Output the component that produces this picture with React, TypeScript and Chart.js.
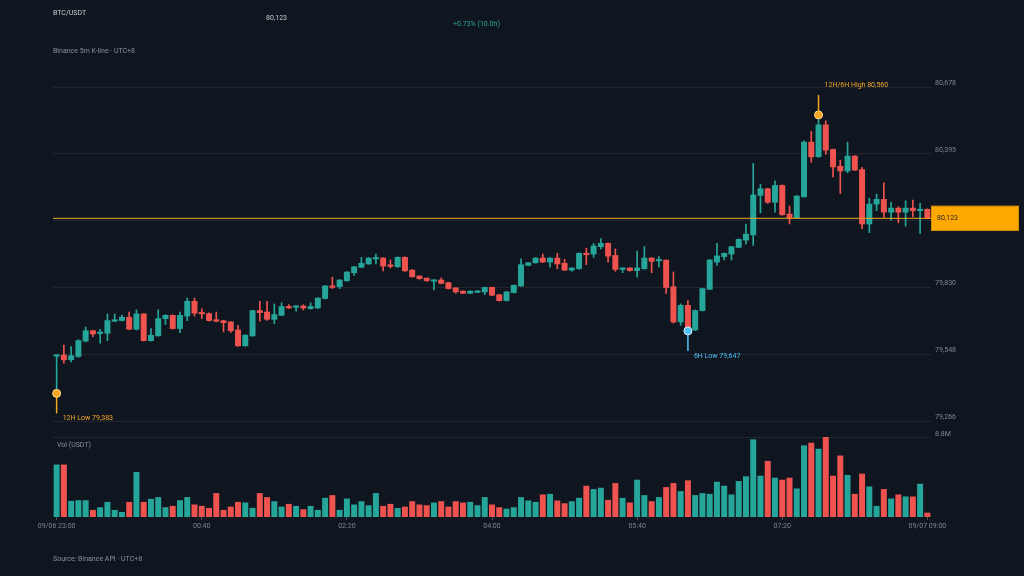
import React, { useEffect, useRef } from 'react';
import { Chart, registerables } from 'chart.js';

Chart.register(...registerables);

// 5m candles, 09/06 23:00 -> 09/07 09:00 (UTC+8)
const opens = [
  79540, 79545, 79525, 79539, 79604, 79648, 79636, 79637, 79688, 79691,
  79705, 79654, 79719, 79606, 79626, 79699, 79713, 79657, 79710, 79772,
  79724, 79720, 79693, 79690, 79685, 79651, 79584, 79626, 79733, 79727,
  79696, 79713, 79750, 79747, 79752, 79741, 79744, 79784, 79837, 79834,
  79859, 79893, 79916, 79930, 79951, 79955, 79925, 79918, 79958, 79904,
  79879, 79870, 79857, 79862, 79851, 79829, 79815, 79806, 79810, 79812,
  79831, 79800, 79775, 79809, 79837, 79924, 79935, 79955, 79938, 79955,
  79933, 79904, 79910, 79975, 79972, 80003, 80017, 79966, 79907, 79913,
  79902, 79910, 79955, 79943, 79946, 79834, 79685, 79755, 79651, 79733,
  79823, 79938, 79961, 79972, 80000, 80031, 80053, 80220, 80248, 80191,
  80262, 80141, 80124, 80214, 80445, 80383, 80518, 80414, 80343, 80323,
  80386, 80329, 80099, 80183, 80203, 80149, 80166, 80149, 80166, 80155,
  80161,
];
const highs = [
  79545, 79587, 79581, 79610, 79663, 79650, 79654, 79719, 79719, 79714,
  79727, 79736, 79721, 79657, 79736, 79716, 79715, 79727, 79786, 79786,
  79741, 79724, 79727, 79692, 79686, 79671, 79631, 79735, 79772, 79772,
  79761, 79766, 79758, 79753, 79758, 79766, 79787, 79839, 79874, 79864,
  79898, 79920, 79958, 79957, 79972, 79957, 79947, 79960, 79960, 79906,
  79880, 79871, 79863, 79871, 79852, 79830, 79816, 79817, 79816, 79832,
  79832, 79801, 79813, 79841, 79952, 79937, 79957, 79972, 79957, 79975,
  79950, 79914, 79977, 79997, 80017, 80037, 80019, 79994, 79914, 79915,
  79985, 80003, 79957, 79961, 79948, 79896, 79761, 79775, 79736, 79828,
  79949, 80017, 79977, 80005, 80036, 80099, 80355, 80267, 80250, 80281,
  80264, 80175, 80219, 80450, 80490, 80560, 80535, 80416, 80369, 80445,
  80388, 80338, 80208, 80225, 80273, 80191, 80172, 80197, 80200, 80186,
  80163,
];
const lows = [
  79383, 79511, 79516, 79535, 79600, 79623, 79595, 79606, 79686, 79689,
  79652, 79651, 79604, 79604, 79625, 79674, 79655, 79640, 79690, 79710,
  79699, 79688, 79685, 79643, 79640, 79582, 79582, 79624, 79688, 79691,
  79677, 79711, 79742, 79730, 79736, 79739, 79742, 79782, 79826, 79826,
  79857, 79882, 79915, 79929, 79930, 79901, 79913, 79916, 79899, 79874,
  79865, 79857, 79820, 79846, 79824, 79806, 79804, 79804, 79809, 79800,
  79796, 79773, 79773, 79807, 79835, 79922, 79933, 79936, 79916, 79910,
  79902, 79899, 79908, 79927, 79958, 79994, 79938, 79899, 79893, 79900,
  79874, 79908, 79893, 79918, 79806, 79680, 79671, 79647, 79649, 79731,
  79821, 79924, 79947, 79947, 79998, 80014, 80009, 80146, 80186, 80149,
  80136, 80099, 80122, 80212, 80360, 80381, 80394, 80298, 80228, 80315,
  80325, 80079, 80062, 80155, 80127, 80115, 80104, 80090, 80129, 80059,
  80121,
];
const closes = [
  79543, 79525, 79542, 79606, 79648, 79634, 79640, 79691, 79693, 79705,
  79654, 79719, 79606, 79629, 79699, 79713, 79657, 79713, 79772, 79722,
  79719, 79691, 79688, 79682, 79648, 79584, 79629, 79733, 79724, 79696,
  79716, 79750, 79744, 79752, 79744, 79750, 79786, 79837, 79831, 79862,
  79896, 79918, 79933, 79955, 79955, 79921, 79920, 79958, 79901, 79876,
  79868, 79859, 79862, 79848, 79826, 79812, 79806, 79815, 79815, 79831,
  79798, 79775, 79812, 79840, 79927, 79935, 79955, 79938, 79955, 79930,
  79904, 79913, 79975, 79969, 80006, 80017, 79963, 79907, 79913, 79902,
  79913, 79955, 79941, 79946, 79831, 79685, 79755, 79651, 79733, 79826,
  79947, 79964, 79975, 80003, 80034, 80056, 80222, 80248, 80191, 80262,
  80138, 80124, 80217, 80445, 80383, 80518, 80411, 80340, 80323, 80386,
  80327, 80099, 80183, 80203, 80149, 80166, 80149, 80166, 80155, 80161,
  80123,
];
// volume in USDT
const volumes = [
  5.71, 5.71, 1.73, 1.8, 1.8, 0.74, 1.03, 1.62, 0.74, 0.52,
  1.62, 4.9, 1.62, 1.95, 2.14, 1.03, 1.18, 1.8, 2.14, 1.33,
  1.18, 0.96, 2.58, 0.74, 1.1, 1.62, 1.55, 0.96, 2.58, 2.14,
  1.69, 1.1, 1.4, 1.18, 0.81, 1.18, 0.74, 2.06, 2.36, 0.74,
  1.99, 1.33, 1.69, 1.25, 2.58, 1.18, 1.4, 0.96, 1.1, 1.69,
  1.33, 1.25, 1.55, 1.69, 1.1, 1.69, 1.55, 1.62, 1.25, 2.14,
  1.33, 1.03, 0.88, 1.03, 2.14, 1.77, 1.62, 2.43, 2.5, 1.77,
  1.47, 1.69, 2.06, 3.39, 3.02, 3.17, 1.84, 3.68, 2.06, 1.55,
  4.05, 2.36, 1.69, 2.14, 3.24, 3.68, 2.8, 3.98, 2.36, 2.58,
  2.5, 3.83, 3.39, 2.43, 3.9, 4.42, 8.47, 4.49, 6.11, 4.27,
  4.05, 4.27, 3.09, 7.81, 8.1, 7.44, 8.76, 4.49, 6.7, 4.57,
  2.5, 4.71, 3.31, 1.18, 3.02, 1.99, 2.43, 2.21, 2.21, 3.61,
  0.44,
].map((v) => v * 1e6);

const tickLabels = ['09/06 23:00', '00:40', '02:20', '04:00', '05:40', '07:20', '09/07 09:00'];
const priceTicks = [79266, 79548, 79830, 80113, 80395, 80678];
const markers = [
  { index: 0, price: 79383, text: '12H Low 79,383', color: '#f5a623', border: '#ffd98a', dir: 1 },
  { index: 87, price: 79647, text: '6H Low 79,647', color: '#4fc3f7', border: '#d6f2ff', dir: 1 },
  { index: 105, price: 80560, text: '12H/6H High 80,560', color: '#f5a623', border: '#ffd98a', dir: -1 },
];

const GREEN = '#26a69a';
const RED = '#ef5350';
const BG = '#10161f';
const GRID = 'rgba(255,255,255,0.07)';
const AXIS_TEXT = '#7e8691';
const FONT = 'Roboto';

const fmt = (v: number) => Math.round(v).toLocaleString('en-US');
const lastClose = closes[closes.length - 1];
const changePct = ((lastClose - opens[0]) / opens[0]) * 100;

const overlay = {
  id: 'overlay',
  beforeDatasetsDraw(chart: any) {
    const { ctx, scales } = chart;
    ctx.save();
    ctx.font = `7px ${FONT}`;
    ctx.textBaseline = 'middle';
    for (const m of markers) {
      const mx = scales.x.getPixelForValue(m.index);
      const my = scales.y.getPixelForValue(m.price);
      ctx.strokeStyle = m.color;
      ctx.lineWidth = 1.5;
      ctx.beginPath();
      ctx.moveTo(mx, my);
      ctx.lineTo(mx, my + m.dir * 20);
      ctx.stroke();
      ctx.fillStyle = m.color;
      ctx.fillText(m.text, mx + 6, my + (m.dir > 0 ? 25 : -30));
    }
    ctx.restore();
  },
  afterDatasetsDraw(chart: any) {
    const { ctx, chartArea, scales } = chart;
    const py = scales.y.getPixelForValue(lastClose);
    ctx.save();
    ctx.strokeStyle = '#f5a623';
    ctx.lineWidth = 1;
    ctx.beginPath();
    ctx.moveTo(chartArea.left, py);
    ctx.lineTo(chartArea.right, py);
    ctx.stroke();
    ctx.fillStyle = '#ffa800';
    ctx.fillRect(chartArea.right, py - 12.5, 88, 25);
    ctx.strokeStyle = '#d98c00';
    ctx.strokeRect(chartArea.right + 0.5, py - 12, 87, 24);
    ctx.fillStyle = '#2a2a2a';
    ctx.font = `7px ${FONT}`;
    ctx.textBaseline = 'middle';
    ctx.fillText(fmt(lastClose), chartArea.right + 6, py);
    ctx.restore();
  },
};

const text = (t: string, left: number, top: number, color: string): React.ReactElement => (
  <div
    style={{
      position: 'absolute',
      left,
      top,
      color,
      fontFamily: FONT,
      fontSize: 7,
      lineHeight: '8px',
      whiteSpace: 'nowrap',
    }}
  >
    {t}
  </div>
);

export default function App() {
  const canvasRef = useRef<HTMLCanvasElement | null>(null);

  useEffect(() => {
    if (!canvasRef.current) return;
    const colors = closes.map((c, i) => (c >= opens[i] ? GREEN : RED));
    const markerData: (number | null)[] = closes.map(() => null);
    markers.forEach((m) => (markerData[m.index] = m.price));
    const times = closes.map((_, i) => {
      const mins = 23 * 60 + i * 5;
      const h = Math.floor(mins / 60) % 24;
      const mm = mins % 60;
      return `${String(h).padStart(2, '0')}:${String(mm).padStart(2, '0')}`;
    });
    const fixWidth = (s: any) => {
      s.width = 93;
    };

    const chart = new Chart(canvasRef.current, {
      type: 'bar',
      data: {
        labels: times,
        datasets: [
          {
            type: 'line',
            label: 'markers',
            data: markerData,
            yAxisID: 'y',
            showLine: false,
            pointRadius: 4,
            pointBackgroundColor: (c: any) => {
              const m = markers.find((k) => k.index === c.dataIndex);
              return m ? m.color : 'transparent';
            },
            pointBorderColor: (c: any) => {
              const m = markers.find((k) => k.index === c.dataIndex);
              return m ? m.border : 'transparent';
            },
            pointBorderWidth: 1,
            order: 0,
          } as any,
          {
            label: 'body',
            data: opens.map((o, i) => [o, closes[i]]) as any,
            backgroundColor: colors,
            barThickness: 5.3,
            minBarLength: 1.5,
            grouped: false,
            yAxisID: 'y',
            order: 1,
          },
          {
            label: 'wick',
            data: lows.map((l, i) => [l, highs[i]]) as any,
            backgroundColor: colors,
            barThickness: 1,
            grouped: false,
            yAxisID: 'y',
            order: 2,
          },
          {
            label: 'volume',
            data: volumes,
            backgroundColor: colors,
            barThickness: 5.3,
            grouped: false,
            yAxisID: 'yVol',
            order: 3,
          },
        ],
      },
      options: {
        animation: false,
        responsive: false,
        events: [],
        layout: { padding: { left: 53, top: 87, right: 0, bottom: 39 } },
        plugins: { legend: { display: false }, tooltip: { enabled: false } },
        scales: {
          x: {
            type: 'category',
            offset: true,
            border: { display: false },
            grid: {
              offset: false,
              drawOnChartArea: false,
              tickLength: 3,
              color: (c: any) => (c.index % 20 === 0 ? '#4a525e' : 'transparent'),
            },
            ticks: {
              autoSkip: false,
              maxRotation: 0,
              padding: 2,
              color: AXIS_TEXT,
              font: { family: FONT, size: 7 },
              callback: (_v: any, i: number) => (i % 20 === 0 ? tickLabels[i / 20] : ''),
            },
            afterFit: (s: any) => {
              s.height = 20;
            },
          },
          y: {
            type: 'linear',
            position: 'right',
            stack: 'v',
            stackWeight: 334.3,
            min: priceTicks[0],
            max: priceTicks[priceTicks.length - 1],
            border: { display: false },
            grid: { color: GRID, drawTicks: false },
            afterBuildTicks: (s: any) => {
              s.ticks = priceTicks.map((v) => ({ value: v }));
            },
            ticks: {
              padding: 4,
              labelOffset: -4,
              color: AXIS_TEXT,
              font: { family: FONT, size: 7 },
              callback: (v: any) => fmt(Number(v)),
            },
            afterFit: fixWidth,
          },
          yGap: {
            type: 'linear',
            position: 'right',
            stack: 'v',
            stackWeight: 16,
            border: { display: false },
            grid: { display: false },
            ticks: { display: false },
            afterFit: fixWidth,
          },
          yVol: {
            type: 'linear',
            position: 'right',
            stack: 'v',
            stackWeight: 80,
            min: 0,
            max: Math.max(...volumes),
            border: { display: false },
            grid: { color: GRID, drawTicks: false },
            afterBuildTicks: (s: any) => {
              s.ticks = [{ value: s.max }];
            },
            ticks: {
              padding: 4,
              labelOffset: -3,
              color: AXIS_TEXT,
              font: { family: FONT, size: 7 },
              callback: (v: any) => `${(Number(v) / 1e6).toFixed(1)}M`,
            },
            afterFit: fixWidth,
          },
        },
      } as any,
      plugins: [overlay],
    });

    return () => {
      chart.destroy();
    };
  }, []);

  return (
    <div style={{ position: 'fixed', left: 0, top: 0, width: 1024, height: 576, background: BG }}>
      <canvas ref={canvasRef} width={1024} height={576} style={{ position: 'absolute', left: 0, top: 0 }} />
      {text('BTC/USDT', 53, 9, '#c9cdd3')}
      {text(fmt(lastClose), 266, 14, '#c9cdd3')}
      {text(`${changePct >= 0 ? '+' : ''}${changePct.toFixed(2)}% (10.0h)`, 453, 20, GREEN)}
      {text('Binance 5m K-line · UTC+8', 53, 47, '#8a919c')}
      {text('Vol (USDT)', 57, 441, '#8a919c')}
      {text('Source: Binance API · UTC+8', 53, 555, '#8a919c')}
    </div>
  );
}
